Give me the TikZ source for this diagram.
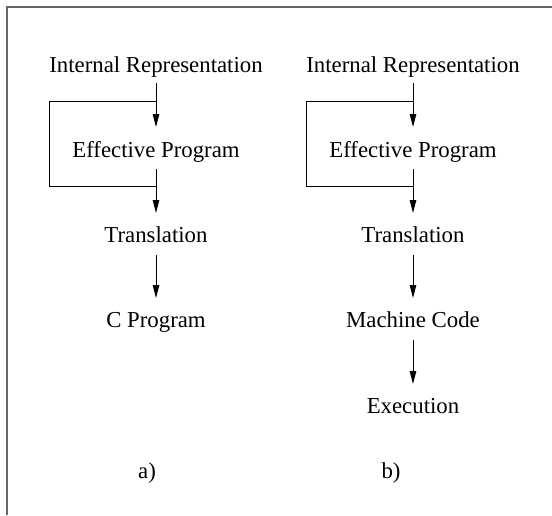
\documentclass[tikz,border=0pt]{standalone}
\usepackage{fontspec}
\setmainfont{Liberation Serif}
\usetikzlibrary{arrows.meta}
\begin{document}
\begin{tikzpicture}[x=1pt,y=-1pt,
  lbl/.style={anchor=base,inner sep=0pt,font=\fontsize{22.8}{27}\selectfont},
  arr/.style={-{Triangle[length=13pt,width=6.5pt]},line width=1pt},
  loopline/.style={line width=1pt},
  frameline/.style={draw=black!60,line width=1.6pt}]
\useasboundingbox (0,0) rectangle (552,515);
\draw[frameline] (6.8,515) -- (6.8,6.8) -- (552,6.8);
% column a
\node[lbl] (ira) at (156,72) {Internal Representation};
\node[lbl] (epa) at (156,157) {Effective Program};
\node[lbl] (tra) at (156,242) {Translation};
\node[lbl] (cpa) at (156,327) {C Program};
\node[lbl] (la) at (147,478) {a)};
% column b
\node[lbl] (irb) at (413,72) {Internal Representation};
\node[lbl] (epb) at (413,157) {Effective Program};
\node[lbl] (trb) at (413,242) {Translation};
\node[lbl] (mcb) at (413,327) {Machine Code};
\node[lbl] (exb) at (413,413) {Execution};
\node[lbl] (lb) at (391,478) {b)};
% feedback loops
\coordinate (ta) at ([yshift=-29pt]ira.base);
\coordinate (ba) at ([yshift=-29pt]epa.base);
\coordinate (tb) at ([yshift=-29pt]irb.base);
\coordinate (bb) at ([yshift=-29pt]epb.base);
\draw[loopline] (ta) -- ++(-107,0) |- (ba);
\draw[loopline] (tb) -- ++(-107,0) |- (bb);
% arrows a
\draw[arr] ([yshift=-11pt]ira.base) -- ([yshift=30pt]epa.base);
\draw[arr] ([yshift=-12pt]epa.base) -- ([yshift=29pt]tra.base);
\draw[arr] ([yshift=-13pt]tra.base) -- ([yshift=29pt]cpa.base);
% arrows b
\draw[arr] ([yshift=-11pt]irb.base) -- ([yshift=30pt]epb.base);
\draw[arr] ([yshift=-12pt]epb.base) -- ([yshift=29pt]trb.base);
\draw[arr] ([yshift=-13pt]trb.base) -- ([yshift=29pt]mcb.base);
\draw[arr] ([yshift=-13pt]mcb.base) -- ([yshift=29pt]exb.base);
\end{tikzpicture}
\end{document}
